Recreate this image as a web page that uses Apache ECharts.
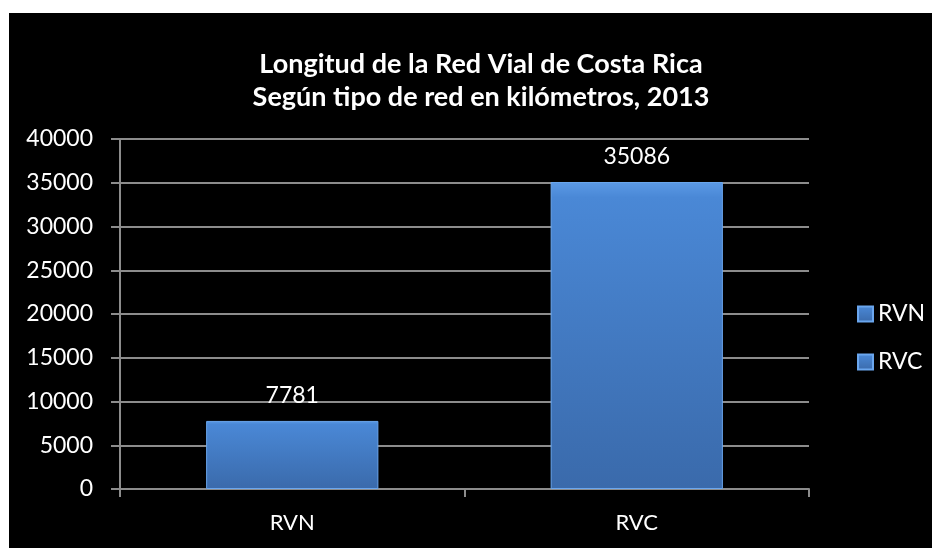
<!DOCTYPE html>
<html><head><meta charset="utf-8">
<script src="https://cdn.jsdelivr.net/npm/echarts@6/dist/echarts.min.js"></script>
<style>html,body{margin:0;padding:0;background:#fff;}#c{position:absolute;left:9px;top:13px;width:923px;height:535px;background:#000;}</style>
</head><body><div id="c"></div>
<script>
const titleLines = ['Longitud de la Red Vial de Costa Rica', 'Según tipo de red en kilómetros, 2013'];
const categories = ['RVN', 'RVC'];
const values = [7781, 35086];
const yMin = 0, yMax = 40000, yStep = 5000;

const chart = echarts.init(document.getElementById('c'));
const font = 'Lato, "Open Sans", sans-serif';
const grad = new echarts.graphic.LinearGradient(0, 0, 0, 1, [
  {offset: 0, color: '#5b9ae6'}, {offset: 0.05, color: '#4a88d6'}, {offset: 1, color: '#3a6aab'}
]);
chart.setOption({
  backgroundColor: '#000',
  animation: false,
  title: {
    text: titleLines.join('\n'), left: 467, textAlign: 'center', top: 30,
    textStyle: {color: '#fff', fontFamily: font, fontWeight: 'bold', fontSize: 27, lineHeight: 33}
  },
  legend: {
    orient: 'vertical', left: 843, top: 284, itemGap: 24, itemWidth: 15, itemHeight: 15,
    icon: 'rect',
    itemStyle: {color: grad},
    textStyle: {color: '#fff', fontFamily: font, fontSize: 23, lineHeight: 24},
    data: categories.map(c => ({name: c}))
  },
  grid: {left: 111, right: 123, top: 126, bottom: 59},
  xAxis: {
    type: 'category', data: categories,
    axisLine: {lineStyle: {color: '#8c8c8c', width: 2}},
    axisTick: {show: true, length: 8, lineStyle: {color: '#8c8c8c', width: 2}},
    axisLabel: {color: '#fff', fontFamily: font, fontSize: 22, margin: 23}
  },
  yAxis: {
    type: 'value', min: yMin, max: yMax, interval: yStep,
    axisLine: {show: true, lineStyle: {color: '#8c8c8c', width: 2}},
    axisTick: {show: true, length: 9, lineStyle: {color: '#8c8c8c', width: 2}},
    splitLine: {lineStyle: {color: '#8c8c8c', width: 2}},
    axisLabel: {color: '#fff', fontFamily: font, fontSize: 23, margin: 27, formatter: v => String(v)}
  },
  series: categories.map((c, i) => ({
    name: c, type: 'bar', stack: 's',
    data: categories.map((_, j) => j === i ? values[i] : null),
    barWidth: '50%',
    itemStyle: {color: grad, borderColor: '#6aa6ee', borderWidth: 1},
    label: {show: true, position: 'top', color: '#fff', fontFamily: font, fontSize: 23, distance: 14}
  }))
});
</script></body></html>
